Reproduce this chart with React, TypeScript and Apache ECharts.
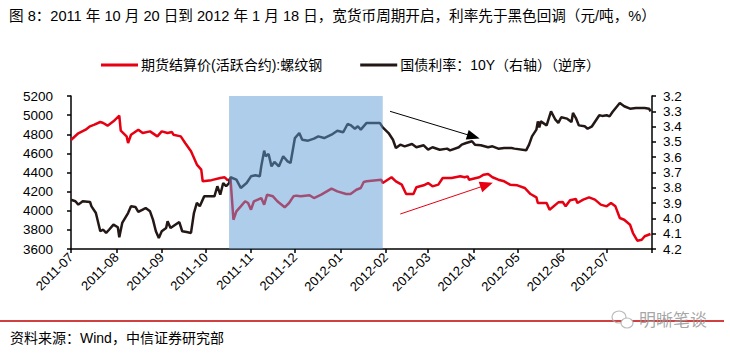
import React, { useEffect, useRef } from 'react';
import * as echarts from 'echarts';

const TITLE = '图 8：2011 年 10 月 20 日到 2012 年 1 月 18 日，宽货币周期开启，利率先于黑色回调（元/吨，%）';
const SOURCE = '资料来源：Wind，中信证券研究部';
const WATERMARK = '明晰笔谈';
const SERIES_NAMES = ['期货结算价(活跃合约):螺纹钢', '国债利率：10Y（右轴）（逆序）'];

const X_MIN = '2011-07-01';
const X_MAX = '2012-08-01';
const LEFT_AXIS = [3600, 5200, 200];
const RIGHT_AXIS = [3.2, 4.2, 0.1];

// band (shaded period) and annotation arrows, in data coordinates
const BAND = [['2011-10-17', 5230], ['2012-01-30', 3600]];
const BLACK_ARROW = [['2012-02-04', 3.30], ['2012-04-01', 3.465]];
const RED_ARROW = [['2012-02-11', 3966], ['2012-04-10', 4270]];

const rebarPrice: [string, number][] = [
  ['2011-07-01', 4740], ['2011-07-06', 4810], ['2011-07-11', 4848], ['2011-07-14', 4883],
  ['2011-07-17', 4900], ['2011-07-21', 4928], ['2011-07-23', 4918], ['2011-07-26', 4890],
  ['2011-07-30', 4935], ['2011-08-03', 4994], ['2011-08-04', 4837], ['2011-08-08', 4778],
  ['2011-08-09', 4708], ['2011-08-11', 4795], ['2011-08-16', 4848], ['2011-08-19', 4813],
  ['2011-08-24', 4830], ['2011-08-29', 4778], ['2011-09-01', 4830], ['2011-09-05', 4813],
  ['2011-09-08', 4823], ['2011-09-09', 4795], ['2011-09-14', 4778], ['2011-09-17', 4708],
  ['2011-09-21', 4622], ['2011-09-22', 4587], ['2011-09-25', 4483], ['2011-09-28', 4430],
  ['2011-09-29', 4308], ['2011-10-05', 4320], ['2011-10-11', 4342], ['2011-10-14', 4350],
  ['2011-10-16', 4320], ['2011-10-18', 4330], ['2011-10-20', 3906], ['2011-10-22', 3994],
  ['2011-10-25', 4046], ['2011-10-28', 4099], ['2011-10-30', 4081], ['2011-11-01', 4011],
  ['2011-11-03', 4099], ['2011-11-08', 4133], ['2011-11-10', 4064], ['2011-11-12', 4168],
  ['2011-11-16', 4151], ['2011-11-19', 4099], ['2011-11-24', 4036], ['2011-11-27', 4081],
  ['2011-11-30', 4151], ['2011-12-02', 4158], ['2011-12-05', 4151], ['2011-12-11', 4162],
  ['2011-12-14', 4133], ['2011-12-19', 4168], ['2011-12-26', 4231], ['2011-12-30', 4203],
  ['2012-01-05', 4175], ['2012-01-08', 4175], ['2012-01-12', 4220], ['2012-01-15', 4238],
  ['2012-01-17', 4300], ['2012-01-19', 4308], ['2012-01-29', 4325], ['2012-01-30', 4290],
  ['2012-02-05', 4350], ['2012-02-08', 4308], ['2012-02-12', 4273], ['2012-02-15', 4175],
  ['2012-02-20', 4175], ['2012-02-22', 4245], ['2012-02-27', 4266], ['2012-03-01', 4290],
  ['2012-03-04', 4255], ['2012-03-08', 4273], ['2012-03-11', 4342], ['2012-03-17', 4342],
  ['2012-03-23', 4360], ['2012-03-26', 4350], ['2012-03-28', 4360], ['2012-03-29', 4325],
  ['2012-04-05', 4350], ['2012-04-08', 4377], ['2012-04-11', 4384], ['2012-04-14', 4350],
  ['2012-04-18', 4325], ['2012-04-22', 4308], ['2012-04-26', 4273], ['2012-05-01', 4266],
  ['2012-05-06', 4238], ['2012-05-10', 4175], ['2012-05-14', 4140], ['2012-05-15', 4081],
  ['2012-05-21', 4081], ['2012-05-23', 4011], ['2012-05-29', 4088], ['2012-06-01', 4092],
  ['2012-06-03', 4046], ['2012-06-06', 4109], ['2012-06-10', 4123], ['2012-06-11', 4081],
  ['2012-06-15', 4116], ['2012-06-19', 4140], ['2012-06-23', 4116], ['2012-06-27', 4064],
  ['2012-07-01', 4046], ['2012-07-04', 4081], ['2012-07-07', 4046], ['2012-07-10', 3924],
  ['2012-07-13', 3906], ['2012-07-17', 3854], ['2012-07-19', 3767], ['2012-07-22', 3687],
  ['2012-07-25', 3697], ['2012-07-27', 3733], ['2012-07-31', 3757],
];

const bondYield: [string, number][] = [
  ['2011-07-01', 3.878], ['2011-07-04', 3.888], ['2011-07-06', 3.910], ['2011-07-09', 3.888],
  ['2011-07-14', 3.893], ['2011-07-15', 3.921], ['2011-07-18', 3.965], ['2011-07-21', 4.084],
  ['2011-07-23', 4.074], ['2011-07-25', 4.095], ['2011-07-27', 4.074], ['2011-07-30', 4.041],
  ['2011-08-02', 4.058], ['2011-08-03', 4.124], ['2011-08-05', 4.030], ['2011-08-09', 3.965],
  ['2011-08-11', 3.921], ['2011-08-14', 3.925], ['2011-08-16', 3.958], ['2011-08-19', 3.943],
  ['2011-08-21', 3.932], ['2011-08-24', 3.954], ['2011-08-26', 4.008], ['2011-08-28', 4.084],
  ['2011-08-30', 4.128], ['2011-09-01', 4.084], ['2011-09-04', 4.063], ['2011-09-05', 4.019],
  ['2011-09-07', 4.063], ['2011-09-11', 4.037], ['2011-09-13', 4.024], ['2011-09-15', 4.084],
  ['2011-09-18', 4.089], ['2011-09-21', 4.095], ['2011-09-23', 3.965], ['2011-09-25', 3.899],
  ['2011-09-27', 3.920], ['2011-09-30', 3.856], ['2011-10-07', 3.856], ['2011-10-09', 3.790],
  ['2011-10-11', 3.845], ['2011-10-13', 3.769], ['2011-10-15', 3.790], ['2011-10-17', 3.769],
  ['2011-10-18', 3.731], ['2011-10-22', 3.747], ['2011-10-25', 3.801], ['2011-10-29', 3.769],
  ['2011-11-01', 3.725], ['2011-11-04', 3.718], ['2011-11-07', 3.725], ['2011-11-08', 3.660],
  ['2011-11-10', 3.557], ['2011-11-11', 3.594], ['2011-11-13', 3.579], ['2011-11-15', 3.660],
  ['2011-11-17', 3.631], ['2011-11-20', 3.660], ['2011-11-23', 3.594], ['2011-11-26', 3.627],
  ['2011-11-28', 3.638], ['2011-12-01', 3.475], ['2011-12-04', 3.442], ['2011-12-06', 3.486],
  ['2011-12-10', 3.492], ['2011-12-14', 3.479], ['2011-12-17', 3.464], ['2011-12-21', 3.475],
  ['2011-12-26', 3.453], ['2011-12-30', 3.427], ['2012-01-03', 3.437], ['2012-01-06', 3.383],
  ['2012-01-08', 3.390], ['2012-01-11', 3.414], ['2012-01-13', 3.398], ['2012-01-15', 3.420],
  ['2012-01-19', 3.376], ['2012-01-28', 3.376], ['2012-01-30', 3.405], ['2012-02-03', 3.442],
  ['2012-02-06', 3.486], ['2012-02-08', 3.540], ['2012-02-11', 3.518], ['2012-02-14', 3.529],
  ['2012-02-19', 3.514], ['2012-02-22', 3.535], ['2012-02-27', 3.522], ['2012-03-01', 3.551],
  ['2012-03-04', 3.535], ['2012-03-09', 3.551], ['2012-03-14', 3.544], ['2012-03-16', 3.555],
  ['2012-03-22', 3.535], ['2012-03-24', 3.518], ['2012-03-27', 3.507], ['2012-03-31', 3.496],
  ['2012-04-02', 3.518], ['2012-04-06', 3.522], ['2012-04-11', 3.535], ['2012-04-14', 3.529],
  ['2012-04-18', 3.544], ['2012-04-22', 3.540], ['2012-04-27', 3.540], ['2012-04-29', 3.544],
  ['2012-05-07', 3.555], ['2012-05-09', 3.518], ['2012-05-11', 3.464], ['2012-05-14', 3.420],
  ['2012-05-15', 3.366], ['2012-05-16', 3.405], ['2012-05-17', 3.366], ['2012-05-21', 3.392],
  ['2012-05-24', 3.300], ['2012-05-27', 3.355], ['2012-05-29', 3.376], ['2012-05-31', 3.339],
  ['2012-06-04', 3.348], ['2012-06-07', 3.370], ['2012-06-08', 3.311], ['2012-06-10', 3.344],
  ['2012-06-12', 3.392], ['2012-06-16', 3.398], ['2012-06-18', 3.414], ['2012-06-21', 3.398],
  ['2012-06-26', 3.326], ['2012-06-28', 3.330], ['2012-07-01', 3.326], ['2012-07-03', 3.333],
  ['2012-07-05', 3.305], ['2012-07-10', 3.246], ['2012-07-13', 3.267], ['2012-07-17', 3.283],
  ['2012-07-21', 3.278], ['2012-07-27', 3.278], ['2012-07-30', 3.283], ['2012-07-31', 3.300],
];

const FONT = '"Liberation Sans", Arial, "Noto Sans CJK SC", sans-serif';
const RED = '#E60012';
const BLACK = '#231815';
const DAY = 86400000;

function toTime(s: string): number {
  const [y, m, d] = s.split('-').map(Number);
  return new Date(y, m - 1, d).getTime();
}

export default function App() {
  const ref = useRef<HTMLDivElement>(null);
  useEffect(() => {
    if (!ref.current) return;
    const chart = echarts.init(ref.current, undefined, { renderer: 'svg' });
    const axisLine = { show: true, lineStyle: { color: '#000', width: 1.5 } };
    const axisTick = { show: true, length: 4, lineStyle: { color: '#000', width: 1.5 } };
    const labelStyle = { color: '#000', fontSize: 13, fontFamily: FONT };
    const yLabelStyle = { color: '#000', fontSize: 13.5, fontFamily: FONT };
    const xMax = toTime(X_MAX);
    chart.setOption({
      animation: false,
      backgroundColor: '#fff',
      textStyle: { fontFamily: FONT },
      legend: {
        left: 96,
        top: 53,
        itemWidth: 37,
        itemHeight: 3,
        itemGap: 38,
        icon: 'rect',
        data: SERIES_NAMES,
        textStyle: { color: '#000', fontSize: 14, fontFamily: FONT, padding: [0, 0, 0, -2] },
      },
      grid: { left: 71, right: 78, top: 96, bottom: 104, containLabel: false },
      xAxis: {
        type: 'time',
        min: toTime(X_MIN),
        max: xMax,
        minInterval: 27 * DAY,
        maxInterval: 32 * DAY,
        splitNumber: 13,
        axisLine,
        axisTick,
        splitLine: { show: false },
        axisLabel: {
          ...labelStyle,
          rotate: 45,
          margin: 6,
          formatter: (v: number) => {
            if (v >= xMax) return '';
            const d = new Date(v);
            return d.getFullYear() + '-' + String(d.getMonth() + 1).padStart(2, '0');
          },
        },
      },
      yAxis: [
        {
          type: 'value',
          min: LEFT_AXIS[0],
          max: LEFT_AXIS[1],
          interval: LEFT_AXIS[2],
          axisLine,
          axisTick,
          splitLine: { show: false },
          axisLabel: { ...yLabelStyle, margin: 18, formatter: (v: number) => String(v) },
        },
        {
          type: 'value',
          position: 'right',
          inverse: true,
          min: RIGHT_AXIS[0],
          max: RIGHT_AXIS[1],
          interval: RIGHT_AXIS[2],
          axisLine,
          axisTick,
          splitLine: { show: false },
          axisLabel: { ...yLabelStyle, margin: 11, formatter: (v: number) => v.toFixed(1) },
        },
      ],
      series: [
        {
          name: SERIES_NAMES[0],
          type: 'line',
          yAxisIndex: 0,
          showSymbol: false,
          symbol: 'none',
          color: RED,
          lineStyle: { color: RED, width: 2.5 },
          data: rebarPrice.map(([d, v]) => [toTime(d), v]),
          markLine: {
            silent: true,
            symbol: ['none', 'triangle'],
            symbolSize: [11, 13],
            label: { show: false },
            lineStyle: { color: RED, width: 1, type: 'solid' },
            data: [[
              { coord: [toTime(RED_ARROW[0][0] as string), RED_ARROW[0][1]] },
              { coord: [toTime(RED_ARROW[1][0] as string), RED_ARROW[1][1]] },
            ]],
          },
        },
        {
          name: SERIES_NAMES[1],
          type: 'line',
          yAxisIndex: 1,
          showSymbol: false,
          symbol: 'none',
          color: BLACK,
          lineStyle: { color: BLACK, width: 2.5 },
          data: bondYield.map(([d, v]) => [toTime(d), v]),
          markLine: {
            silent: true,
            symbol: ['none', 'triangle'],
            symbolSize: [10, 13],
            label: { show: false },
            lineStyle: { color: '#000', width: 1, type: 'solid' },
            data: [[
              { coord: [toTime(BLACK_ARROW[0][0] as string), BLACK_ARROW[0][1]] },
              { coord: [toTime(BLACK_ARROW[1][0] as string), BLACK_ARROW[1][1]] },
            ]],
          },
        },
        {
          name: 'band',
          type: 'line',
          yAxisIndex: 0,
          data: [],
          clip: false,
          markArea: {
            z: 5,
            silent: true,
            itemStyle: { color: 'rgba(91,155,213,0.5)' },
            data: [[
              { coord: [toTime(BAND[0][0] as string), BAND[0][1]] },
              { coord: [toTime(BAND[1][0] as string), BAND[1][1]] },
            ]],
          },
        },
      ],
      graphic: [
        {
          type: 'text', left: 9, top: 9,
          style: { text: TITLE, fill: '#000', font: `14.6px ${FONT}` },
        },
        {
          type: 'line', shape: { x1: 0, y1: 321, x2: 724, y2: 321 },
          style: { stroke: '#C00000', lineWidth: 1.5 },
        },
        {
          type: 'text', left: 10, top: 331,
          style: { text: SOURCE, fill: '#000', font: `14px ${FONT}` },
        },
        {
          type: 'ellipse', shape: { cx: 619, cy: 317, rx: 7, ry: 6 },
          style: { fill: 'none', stroke: 'rgba(170,170,170,0.8)', lineWidth: 1.2 },
        },
        {
          type: 'ellipse', shape: { cx: 627, cy: 323, rx: 6, ry: 5 },
          style: { fill: '#fff', stroke: 'rgba(170,170,170,0.8)', lineWidth: 1.2 },
        },
        {
          type: 'text', left: 639, top: 310,
          style: { text: WATERMARK, fill: 'rgba(150,150,150,0.85)', font: `17px "Noto Sans CJK SC", sans-serif` },
        },
      ],
    });
    return () => chart.dispose();
  }, []);
  return (
    <div
      ref={ref}
      style={{ position: 'absolute', left: 0, top: 0, width: 730, height: 353, background: '#fff' }}
    />
  );
}
